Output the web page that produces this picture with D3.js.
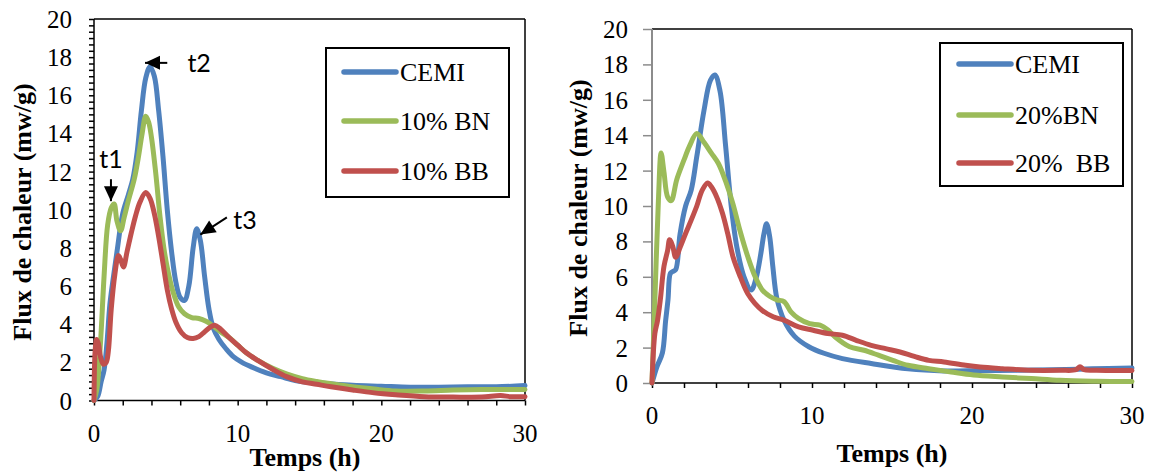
<!DOCTYPE html>
<html><head><meta charset="utf-8">
<script src="https://cdn.jsdelivr.net/npm/d3@7"></script>
<style>
html,body{margin:0;padding:0;background:#fff;}
svg{display:block;}
text{font-family:"Liberation Serif","Times New Roman",serif;fill:#000;}
</style></head>
<body>
<svg id="chart" width="1151" height="475"></svg>
<script>
// ---------- DATA ----------
const xTickLabels = [0, 10, 20, 30];
const yTickLabels = [0, 2, 4, 6, 8, 10, 12, 14, 16, 18, 20];
const seriesColors = ["#4F81BD", "#9BBB59", "#C0504D"];
const leftNames = ["CEMI", "10% BN", "10% BB"];
const rightNames = ["CEMI", "20%BN", "20%  BB"];

// Left panel (10 %)
const tL_CEMI = [0,0.25,0.5,0.7,0.9,1.1,1.3,1.6,2.0,2.4,2.7,3.0,3.3,3.6,3.9,4.2,4.5,4.8,5.1,5.4,5.7,6.0,6.3,6.6,6.9,7.15,7.4,7.7,8.0,8.3,8.7,9.2,9.7,10.3,11.0,12.0,13.0,14.0,15.0,16.0,18.0,20.0,22.0,24.0,26.0,28.0,30.0];
const vL_CEMI = [0,0.2,1.0,1.6,3.0,5.0,6.2,7.8,9.8,10.8,11.6,13.0,15.2,16.9,17.5,17.0,15.2,12.8,10.0,7.8,6.2,5.4,5.25,6.0,8.0,9.0,8.4,6.5,4.8,3.8,3.2,2.7,2.3,2.0,1.75,1.45,1.25,1.05,0.95,0.9,0.8,0.75,0.7,0.7,0.72,0.72,0.78];
const tL_BN = [0,0.2,0.45,0.7,0.95,1.2,1.4,1.6,1.85,2.1,2.4,2.8,3.1,3.35,3.6,3.8,4.0,4.3,4.6,4.9,5.2,5.5,5.9,6.3,6.8,7.3,7.8,8.3,8.8,9.4,10.0,10.6,11.4,12.4,13.4,14.5,15.5,16.5,18.0,19.5,21.0,23.0,25.0,27.0,30.0];
const vL_BN = [0,0.6,3.0,6.5,9.2,10.1,10.3,9.4,8.9,9.6,10.5,11.6,12.8,14.0,14.9,14.6,13.8,11.9,9.6,7.8,6.6,5.7,4.9,4.55,4.35,4.3,4.15,3.9,3.6,3.3,2.9,2.5,2.1,1.7,1.4,1.15,1.0,0.88,0.72,0.6,0.5,0.5,0.55,0.58,0.58];
const tL_BB = [0,0.08,0.18,0.3,0.45,0.65,0.85,1.0,1.2,1.45,1.7,1.85,2.05,2.3,2.6,2.9,3.2,3.6,3.9,4.2,4.5,4.8,5.1,5.4,5.7,6.1,6.5,6.9,7.3,7.7,8.1,8.4,8.8,9.4,10.0,10.6,11.4,12.4,13.4,14.5,15.5,16.5,18.0,19.5,21.0,23.0,25.0,27.0,28.3,29.0,30.0];
const vL_BB = [0,2.6,3.2,3.0,2.3,1.9,2.0,2.6,4.8,6.6,7.6,7.4,7.0,7.8,8.8,9.7,10.4,10.9,10.6,9.8,8.6,7.2,5.8,4.8,4.1,3.55,3.3,3.25,3.35,3.6,3.85,3.95,3.75,3.3,2.9,2.5,2.1,1.65,1.25,0.98,0.85,0.72,0.55,0.4,0.3,0.2,0.18,0.18,0.26,0.2,0.2];

// Right panel (20 %)
const tR_CEMI = [0,0.3,0.65,0.85,1.0,1.15,1.3,1.48,1.75,2.1,2.45,2.8,3.25,3.65,3.93,4.25,4.6,4.95,5.3,5.75,6.2,6.5,6.8,7.0,7.16,7.35,7.55,7.8,8.25,8.9,9.8,10.75,11.9,13.7,16.0,18.25,20.5,23.0,25.0,27.5,30.0];
const vR_CEMI = [0,0.9,1.7,3.5,4.7,6.2,6.3,6.4,8.4,10.0,10.9,12.8,15.4,17.1,17.4,16.5,13.4,10.0,7.7,6.0,5.25,5.9,7.3,8.45,9.0,8.3,6.6,4.8,3.55,2.65,2.05,1.68,1.38,1.1,0.8,0.68,0.7,0.72,0.75,0.8,0.85];
const tR_BN = [0,0.18,0.4,0.57,0.75,0.98,1.2,1.55,2.0,2.35,2.8,3.25,3.7,4.15,4.6,5.05,5.5,6.0,6.45,6.9,7.35,7.8,8.25,8.7,9.15,9.85,10.5,11.0,11.45,12.35,13.25,14.15,15.05,16.0,17.3,18.7,20.1,21.9,23.7,25.5,27.8,30.0];
const vR_BN = [0,4.7,10.3,13.0,11.9,10.5,10.3,11.5,12.6,13.4,14.1,13.6,13.0,12.4,11.4,10.15,8.6,7.1,6.0,5.25,4.9,4.7,4.6,4.0,3.65,3.35,3.27,3.0,2.6,2.05,1.85,1.57,1.28,1.0,0.81,0.62,0.45,0.34,0.25,0.15,0.1,0.08];
const tR_BB = [0,0.18,0.34,0.52,0.75,0.98,1.1,1.3,1.48,1.77,2.1,2.45,2.8,3.14,3.48,3.7,4.05,4.4,4.73,5.07,5.52,5.98,6.43,6.89,7.57,8.25,9.16,10.07,10.98,11.9,12.8,13.7,14.6,15.5,16.4,17.3,18.25,19.6,20.5,21.9,23.7,25.5,26.5,26.75,27.0,27.8,30.0];
const vR_BB = [0,2.8,3.5,4.7,6.6,7.5,8.1,7.7,7.1,7.7,8.45,9.2,10.0,10.9,11.3,11.1,10.5,9.6,8.45,7.1,6.0,5.05,4.5,4.1,3.74,3.55,3.17,2.98,2.8,2.7,2.4,2.13,1.94,1.75,1.5,1.28,1.19,1.0,0.9,0.81,0.72,0.72,0.75,0.92,0.75,0.72,0.7];

// annotations (data coordinates) for left panel
const annLabels = ["t1", "t2", "t3"];
const annTip   = [[1.18, 10.45], [3.55, 17.7], [7.4, 8.7]];
const annTail  = [[1.18, 11.6], [5.1, 17.7], [9.25, 9.6]];
const annText  = [[1.18, 12.2], [6.5, 17.2], [9.7, 9.0]];

// ---------- DRAW ----------
const svg = d3.select("#chart");
const zip = (t, v) => t.map((d, i) => [d, v[i]]);

function panel(cfg) {
  const x = d3.scaleLinear().domain([0, 30]).range(cfg.xr);
  const y = d3.scaleLinear().domain([0, 20]).range(cfg.yr);
  const g = svg.append("g");

  // plot frame (top & right)
  g.append("line").attr("x1", x(0)).attr("x2", x(30)).attr("y1", y(20)).attr("y2", y(20)).attr("stroke", "#000").attr("stroke-width", 1.5);
  g.append("line").attr("x1", x(30)).attr("x2", x(30)).attr("y1", y(20)).attr("y2", y(0)).attr("stroke", "#000").attr("stroke-width", 1.5);

  // y axis
  const yAxisColor = cfg.grayY ? "#8c8c8c" : "#000";
  const yAx = g.append("g").attr("transform", `translate(${x(0)},0)`)
    .call(d3.axisLeft(y).tickValues(cfg.yTicks).tickSize(cfg.yTickLen).tickFormat(""));
  yAx.select(".domain").attr("stroke", yAxisColor).attr("stroke-width", cfg.grayY ? 2 : 1.5).attr("d", `M0,${y(0)}V${y(20)}`);
  yAx.selectAll(".tick line").attr("stroke", yAxisColor).attr("stroke-width", 1.5);
  g.selectAll(".ylab").data(yTickLabels).join("text")
    .attr("x", x(0) - cfg.yLabGap).attr("y", d => y(d) + 9)
    .attr("text-anchor", "end").attr("font-size", 25).text(d => d);

  // x axis
  const xAx = g.append("g").attr("transform", `translate(0,${y(0)})`)
    .call(d3.axisBottom(x).tickValues(d3.range(0, 31, 2)).tickSize(5).tickFormat(""));
  xAx.select(".domain").attr("stroke", "#000").attr("stroke-width", 1.5).attr("d", `M${x(0)},0H${x(30)}`);
  xAx.selectAll(".tick line").attr("stroke", "#000").attr("stroke-width", 1.5);
  g.selectAll(".xlab").data(xTickLabels).join("text")
    .attr("x", d => x(d)).attr("y", y(0) + 41)
    .attr("text-anchor", "middle").attr("font-size", 25).text(d => d);

  // axis titles
  g.append("text").attr("x", cfg.xTitle[0]).attr("y", cfg.xTitle[1])
    .attr("text-anchor", "middle").attr("font-size", 26).attr("font-weight", "bold").text("Temps (h)");
  g.append("text").attr("transform", `translate(${cfg.yTitle[0]},${cfg.yTitle[1]}) rotate(-90)`)
    .attr("text-anchor", "middle").attr("font-size", 26).attr("font-weight", "bold").text("Flux de chaleur (mw/g)");

  // series
  const line = d3.line().x(d => x(d[0])).y(d => y(d[1])).curve(d3.curveCatmullRom.alpha(0.5));
  cfg.series.forEach((s, i) => {
    g.append("path").datum(s).attr("d", line).attr("fill", "none")
      .attr("stroke", seriesColors[i]).attr("stroke-width", 5)
      .attr("stroke-linejoin", "round").attr("stroke-linecap", "round");
  });

  // legend
  const L = cfg.legend;
  g.append("rect").attr("x", L.x).attr("y", L.y).attr("width", L.w).attr("height", L.h)
    .attr("fill", "#fff").attr("stroke", "#000").attr("stroke-width", 2);
  cfg.names.forEach((n, i) => {
    const ly = L.rows[i];
    g.append("line").attr("x1", L.lx1).attr("x2", L.lx2).attr("y1", ly).attr("y2", ly)
      .attr("stroke", seriesColors[i]).attr("stroke-width", 5.5).attr("stroke-linecap", "round");
    g.append("text").attr("x", L.tx).attr("y", ly + 9).attr("font-size", 26)
      .style("white-space", "pre").text(n);
  });
  return {x, y, g};
}

const left = panel({
  xr: [94, 525], yr: [400.5, 19],
  grayY: false, yTicks: d3.range(0, 61).map(i => i / 3), yTickLen: 5, yLabGap: 22,
  xTitle: [305, 466], yTitle: [31, 212],
  series: [zip(tL_CEMI, vL_CEMI), zip(tL_BN, vL_BN), zip(tL_BB, vL_BB)],
  names: leftNames,
  legend: {x: 326, y: 48, w: 183, h: 149, lx1: 344, lx2: 396, tx: 400, rows: [72, 121, 171]}
});

const right = panel({
  xr: [652, 1132], yr: [383, 29],
  grayY: true, yTicks: d3.range(0, 21, 2), yTickLen: 9, yLabGap: 24,
  xTitle: [892, 462], yTitle: [587, 208],
  series: [zip(tR_CEMI, vR_CEMI), zip(tR_BN, vR_BN), zip(tR_BB, vR_BB)],
  names: rightNames,
  legend: {x: 940, y: 43, w: 183, h: 143, lx1: 959, lx2: 1011, tx: 1015, rows: [64, 115, 163]}
});

// annotations on left panel
const ax = left.x, ay = left.y, ag = left.g;
annLabels.forEach((lab, i) => {
  ag.append("line").attr("x1", ax(annTail[i][0])).attr("y1", ay(annTail[i][1]))
    .attr("x2", ax(annTip[i][0])).attr("y2", ay(annTip[i][1]))
    .attr("stroke", "#000").attr("stroke-width", 2);
  ag.append("path")
    .attr("d", () => {
      const x1 = ax(annTail[i][0]), y1 = ay(annTail[i][1]);
      const x2 = ax(annTip[i][0]), y2 = ay(annTip[i][1]);
      const a = Math.atan2(y2 - y1, x2 - x1), L = 15, Wd = 7;
      const bx = x2 - L * Math.cos(a), by = y2 - L * Math.sin(a);
      const px = -Math.sin(a) * Wd, py = Math.cos(a) * Wd;
      return `M${x2},${y2}L${bx + px},${by + py}L${bx - px},${by - py}Z`;
    }).attr("fill", "#000");
  ag.append("text").attr("x", ax(annText[i][0])).attr("y", ay(annText[i][1]))
    .attr("text-anchor", i === 0 ? "middle" : "start")
    .style("font-family", "Lato, 'Open Sans', sans-serif").attr("font-size", 25).text(lab);
});
</script>
</body></html>
